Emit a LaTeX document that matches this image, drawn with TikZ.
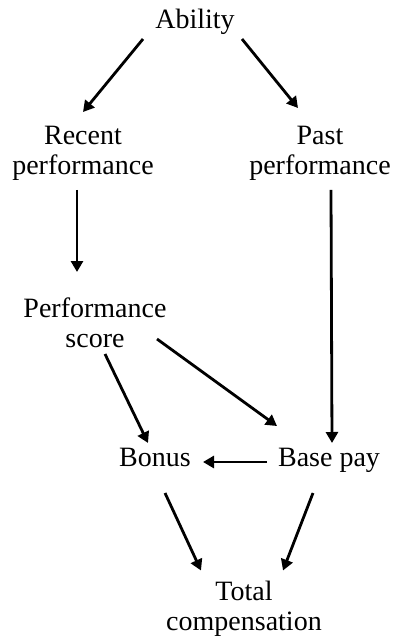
\documentclass[tikz,border=0pt]{standalone}
\usepackage{fontspec}
\setmainfont{Liberation Serif}
\usetikzlibrary{arrows.meta,calc}
\tikzset{
  var/.style={inner sep=0pt, align=center, font=\fontsize{28}{30}\selectfont},
  link/.style={line width=2.8pt, -{Triangle[length=11pt,width=12pt]}}
}
\begin{document}
\begin{tikzpicture}[x=1pt,y=-1pt]
\useasboundingbox (0,0) rectangle (398,638);
% variables
\node[var, anchor=base] (ability) at (195,28) {Ability};
\node[var] (recent) at (83,153.8) {Recent\\performance};
\node[var] (past) at (320,153.8) {Past\\performance};
\node[var] (score) at (95,322.5) {Performance\\score};
\node[var, anchor=base] (bonus) at (155,466) {Bonus};
\node[var, anchor=base] (base) at (329,466) {Base pay};
\node[var] (total) at (244,608.5) {Total\\compensation};
% causal links
\draw[link] ($(ability.base)+(-52,11)$) -- ($(recent)+(0,-41.8)$);
\draw[link] ($(ability.base)+(47,11)$) -- ($(past)+(-22,-45.8)$);
\draw[link] ($(recent)+(-6,36)$) -- ($(score)+(-18,-50.5)$);
\draw[link] ($(past)+(11,36)$) -- ($(base.base)+(3,-23)$);
\draw[link] ($(score)+(10,31.5)$) -- ($(bonus.base)+(-7,-23)$);
\draw[link] ($(score)+(62,16.5)$) -- ($(base.base)+(-52,-40)$);
\draw[link] ($(base.base)+(-62,-4)$) -- ($(bonus.base)+(48,-4)$);
\draw[link] ($(bonus.base)+(10,27)$) -- ($(total)+(-43,-38)$);
\draw[link] ($(base.base)+(-16,27)$) -- ($(total)+(39,-38)$);
\end{tikzpicture}
\end{document}
